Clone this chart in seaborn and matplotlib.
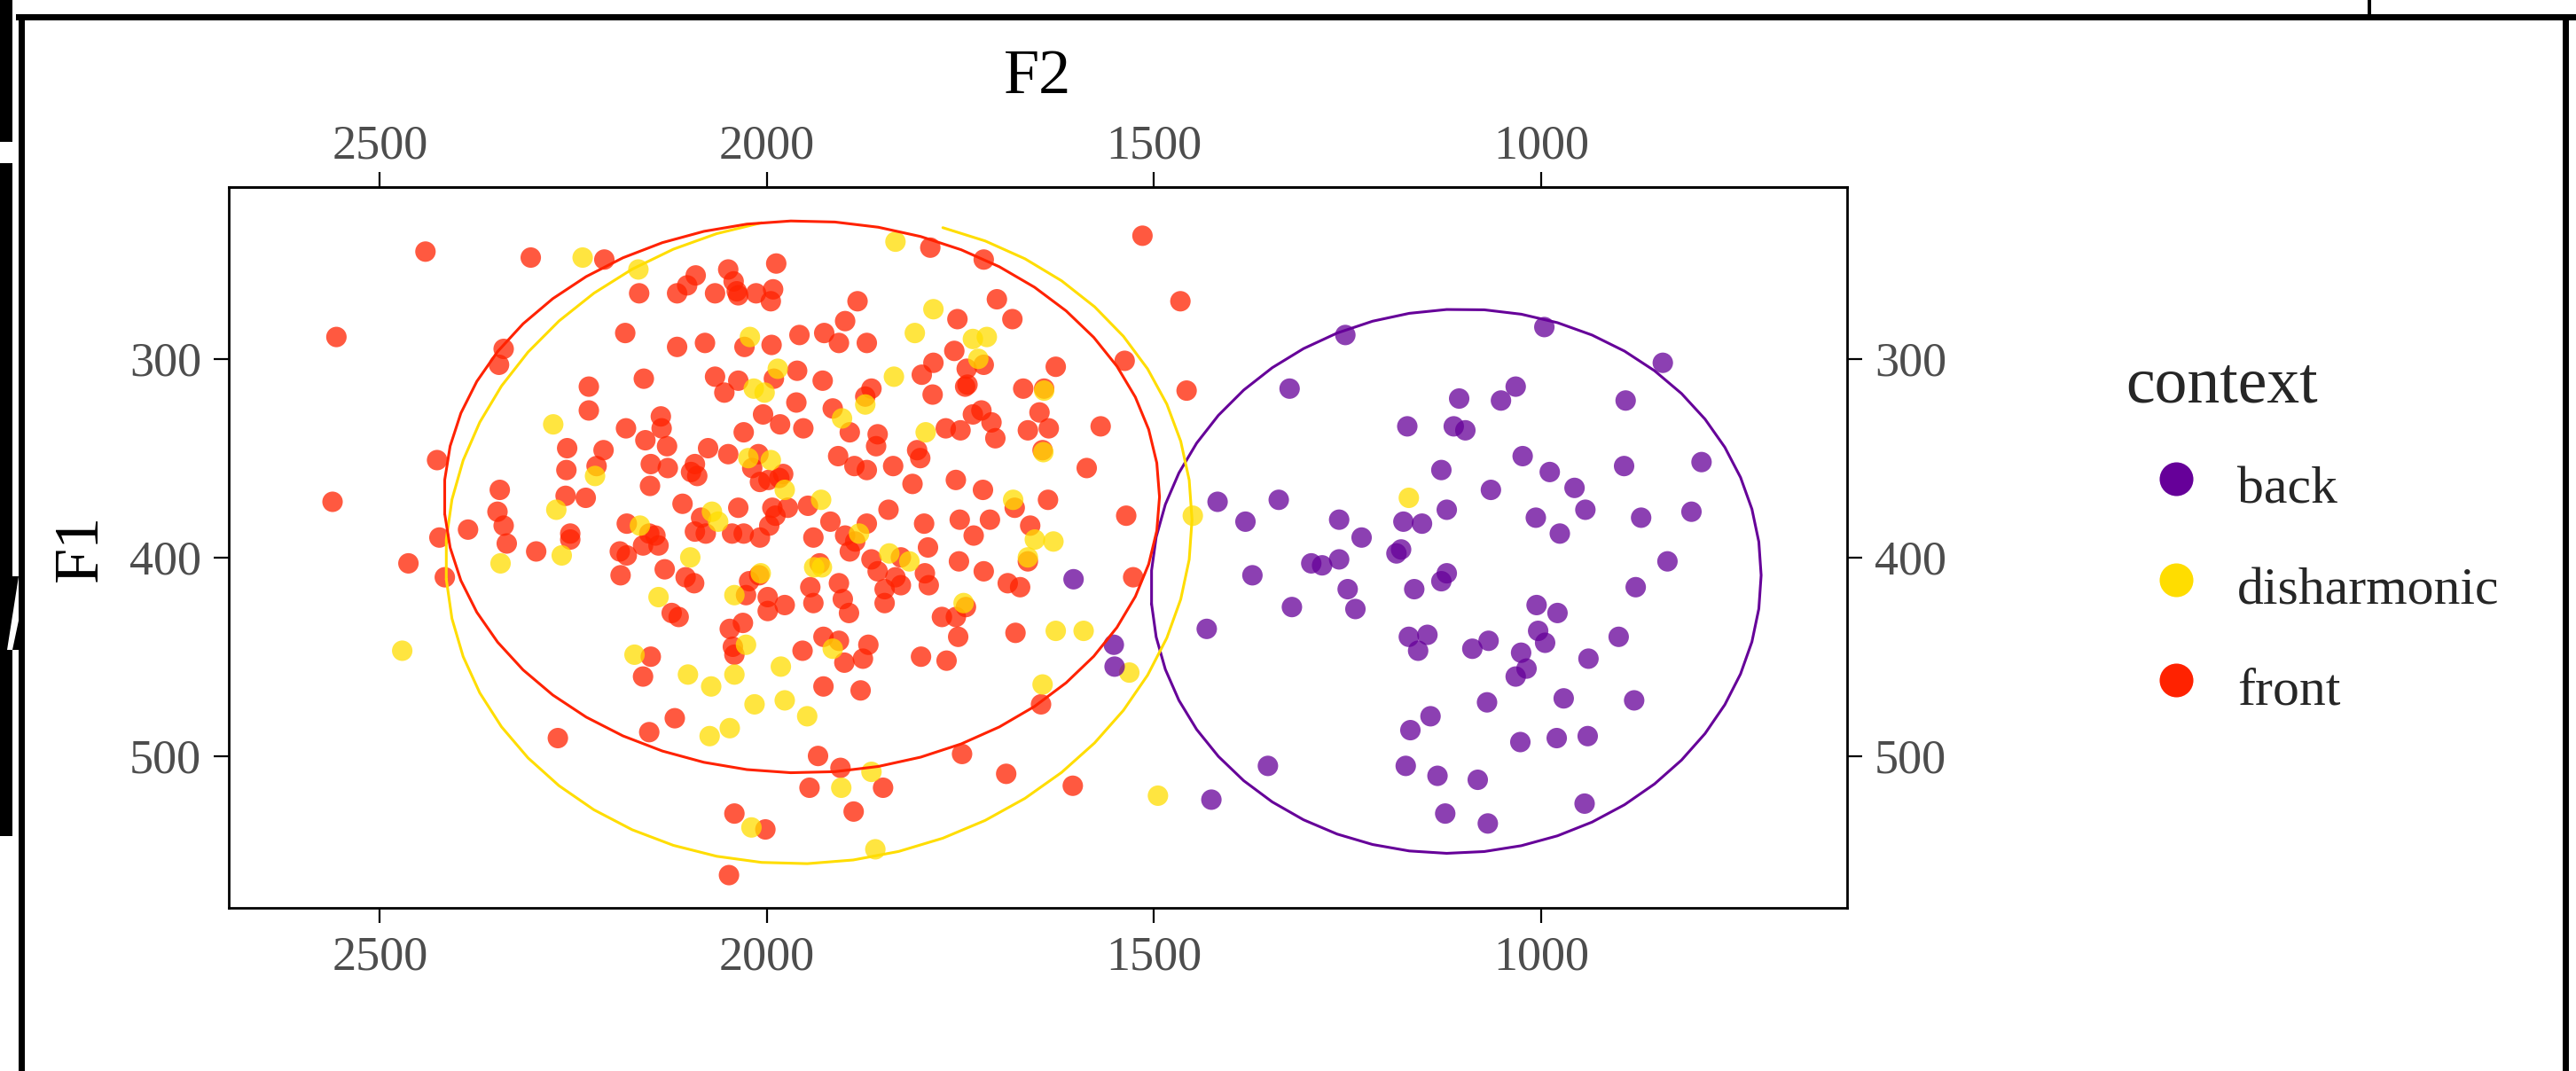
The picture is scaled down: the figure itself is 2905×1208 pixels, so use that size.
import numpy as np
import pandas as pd
import matplotlib
matplotlib.use("Agg")
import matplotlib.pyplot as plt
from matplotlib.lines import Line2D
from matplotlib.patches import Rectangle, Polygon
import seaborn as sns

# ---- data (F2, F1 in Hz) ----
front_points = [
    (2441, 246), (2305, 249), (2210, 250), (1789, 244), (1720, 250), (1515, 238), (1988, 252), (2050, 255),
    (2092, 258), (2103, 263), (2116, 267), (2165, 267), (2067, 267), (2043, 261), (2039, 266), (2037, 268),
    (2014, 267), (1992, 265), (1995, 271), (1883, 271), (1466, 271), (1703, 270), (2556, 289), (2340, 295),
    (2346, 303), (2183, 287), (1899, 281), (1754, 280), (1683, 280), (2116, 294), (2080, 292), (2029, 294),
    (1994, 293), (1958, 288), (1926, 287), (1907, 292), (1871, 292), (1758, 296), (1720, 303), (1742, 305),
    (1785, 302), (1627, 304), (1538, 301), (1458, 316), (2159, 310), (2067, 309), (2037, 311), (2055, 317),
    (1991, 310), (1961, 306), (1928, 311), (1800, 308), (1865, 315), (1873, 319), (1786, 318), (1744, 314),
    (1741, 313), (1669, 315), (1642, 315), (2230, 314), (2230, 326), (1962, 322), (2005, 328), (1983, 333),
    (1953, 335), (1915, 325), (1893, 337), (1857, 338), (1859, 344), (1769, 335), (1750, 336), (1734, 328),
    (1723, 326), (1710, 332), (1705, 340), (1648, 327), (1663, 336), (1636, 335), (1569, 334), (2182, 335),
    (2137, 329), (2136, 335), (2157, 341), (2129, 344), (2258, 345), (2211, 346), (2076, 345), (2050, 348),
    (2030, 337), (2011, 348), (2259, 356), (2220, 354), (2150, 353), (2128, 355), (2098, 357), (2093, 353),
    (2090, 359), (2019, 355), (2009, 362), (1998, 361), (1984, 360), (1979, 358), (1908, 349), (1887, 354),
    (1871, 356), (1837, 354), (1812, 363), (1806, 346), (1802, 350), (1756, 361), (1721, 366), (1644, 346),
    (1587, 355), (2151, 364), (2345, 366), (2260, 369), (2234, 370), (2109, 373), (2037, 375), (1993, 375),
    (1973, 375), (1947, 374), (1843, 376), (1680, 375), (1637, 371), (1536, 379), (2426, 351), (2561, 372),
    (2348, 377), (2340, 384), (2336, 393), (2386, 386), (2423, 390), (2254, 388), (2254, 391), (2181, 383),
    (2152, 388), (2144, 389), (2140, 394), (2160, 394), (2085, 380), (2093, 387), (2079, 388), (2045, 388),
    (2030, 388), (2009, 390), (1997, 384), (1989, 379), (1940, 390), (1918, 382), (1899, 389), (1886, 392),
    (1893, 397), (1871, 383), (1797, 383), (1751, 381), (1712, 381), (1733, 389), (1660, 384), (1792, 395),
    (1827, 400), (1865, 401), (1857, 407), (1834, 410), (1827, 414), (1848, 416), (1848, 423), (1663, 402),
    (1752, 402), (1720, 407), (1796, 408), (1791, 414), (1689, 413), (1673, 415), (1527, 410), (2298, 397),
    (2463, 403), (2416, 410), (2190, 397), (2181, 399), (2132, 406), (2105, 410), (2094, 413), (2189, 409),
    (2010, 409), (2023, 412), (2027, 419), (1999, 420), (1999, 427), (1977, 424), (1932, 403), (1907, 413),
    (1944, 415), (1940, 423), (1902, 421), (1894, 428), (2123, 428), (2114, 430), (2031, 433), (2048, 436),
    (1743, 425), (1774, 430), (1756, 430), (1753, 440), (1679, 438), (2150, 450), (2160, 460), (2044, 445),
    (2042, 449), (1954, 447), (1927, 440), (1907, 442), (1900, 453), (1876, 451), (1869, 444), (1801, 450),
    (1768, 452), (1646, 474), (1927, 465), (1879, 467), (2119, 481), (2152, 488), (2270, 491), (1934, 500),
    (1905, 506), (1748, 499), (1945, 516), (1850, 516), (1691, 509), (1605, 515), (2042, 529), (2002, 537),
    (1888, 528), (2049, 560),
]

disharmonic_points = [
    (2238, 249), (2166, 255), (1834, 241), (1785, 275), (1809, 287), (1734, 290), (1716, 289), (2022, 289),
    (1727, 300), (2017, 315), (2003, 317), (1986, 305), (1836, 309), (1873, 323), (1903, 330), (1795, 337),
    (2276, 333), (2024, 350), (1995, 351), (2222, 359), (1977, 366), (1643, 347), (2272, 376), (1930, 371),
    (1682, 371), (2164, 384), (2071, 377), (2063, 382), (1881, 388), (1654, 391), (1630, 392), (1842, 398),
    (1816, 402), (1663, 400), (2265, 399), (2344, 403), (2099, 400), (2008, 408), (2042, 419), (1939, 405),
    (1929, 405), (2140, 420), (1746, 423), (1627, 437), (1591, 437), (2471, 447), (2171, 449), (2102, 459),
    (2072, 465), (2042, 459), (2027, 444), (1982, 455), (1915, 446), (1532, 458), (1644, 464), (2016, 474),
    (1977, 472), (1948, 480), (2074, 490), (2048, 486), (1865, 508), (1904, 516), (1495, 520), (2020, 536),
    (1860, 547), (1450, 379), (1171, 370), (1642, 316),
]

back_points = [
    (1253, 288), (996, 284), (843, 302), (1325, 315), (1106, 320), (1052, 321), (1033, 314), (891, 321),
    (1173, 334), (1113, 334), (1098, 336), (1024, 349), (989, 357), (1129, 356), (893, 354), (793, 352),
    (957, 365), (1065, 366), (1418, 372), (1382, 382), (1339, 371), (1261, 381), (1178, 382), (1154, 383),
    (1122, 376), (1007, 380), (976, 388), (943, 376), (871, 380), (806, 377), (1232, 390), (1187, 398),
    (1181, 396), (1297, 403), (1283, 404), (1261, 401), (1373, 409), (837, 402), (878, 415), (1164, 416),
    (1122, 408), (1129, 412), (1250, 416), (1322, 425), (1240, 426), (1006, 424), (979, 428), (1004, 437),
    (995, 443), (900, 440), (1432, 436), (1171, 440), (1147, 439), (1159, 447), (1089, 446), (1068, 442),
    (1026, 448), (1019, 456), (1033, 460), (939, 451), (1070, 473), (971, 471), (880, 472), (1143, 480),
    (1169, 487), (1027, 493), (980, 491), (940, 490), (1353, 505), (1175, 505), (1134, 510), (1082, 512),
    (1124, 529), (1069, 534), (944, 524), (1426, 522), (1552, 444), (1551, 455), (1604, 411),
]

contexts = ["back", "disharmonic", "front"]
colors = ["#660099", "#FFDD00", "#FF2200"]

# ellipse outlines per context (centre, x radius, y radius, x-y coupling)
ell_cx = [1110, 1933, 1955]
ell_cy = [412, 391, 369.5]
ell_rx = [394, 482, 462]
ell_ry = [137, 163, 139]
ell_xy = [3, 10, 0]

x_limits = (700, 2600)
y_limits = (230, 560)
x_ticks = [1000, 1500, 2000, 2500]
y_ticks = [300, 400, 500]

# ---- frame ----
rows = []
for name, pts in (("front", front_points), ("disharmonic", disharmonic_points), ("back", back_points)):
    for f2, f1 in pts:
        rows.append({"F2": f2, "F1": f1, "context": name})
df = pd.DataFrame(rows)
palette = dict(zip(contexts, colors))

sns.set_theme(style="ticks")
plt.rcParams["font.family"] = ["Liberation Serif", "DejaVu Serif"]

W, H, DPI = 2905, 1208, 200
fig = plt.figure(figsize=(W / DPI, H / DPI), dpi=DPI)
ax = fig.add_axes([258 / W, 1 - 1024 / H, (2083 - 258) / W, (1024 - 211) / H])

sns.scatterplot(data=df, x="F2", y="F1", hue="context", palette=palette,
                s=69, alpha=0.75, linewidth=0, legend=False, ax=ax, zorder=2)

# 51-segment outline; vertices outside the scale limits are dropped (path breaks)
n_seg = 51
theta = (np.arange(n_seg + 1) + 0.5) * 2 * np.pi / n_seg
for c, cx, cy, rx, ry, rxy in zip(contexts, ell_cx, ell_cy, ell_rx, ell_ry, ell_xy):
    ex = cx + rx * np.cos(theta)
    ey = cy + rxy * np.cos(theta) + ry * np.sin(theta)
    ey = np.where((ey < y_limits[0]) | (ey > y_limits[1]), np.nan, ey)
    ax.plot(ex, ey, color=palette[c], lw=1.1, zorder=3)

# ggplot-style 5% expansion, both axes reversed
xr = x_limits[1] - x_limits[0]
yr = y_limits[1] - y_limits[0]
ax.set_xlim(x_limits[1] + 0.05 * xr, x_limits[0] - 0.05 * xr)
ax.set_ylim(y_limits[1] + 0.05 * yr, y_limits[0] - 0.05 * yr)
ax.set_xticks(x_ticks)
ax.set_yticks(y_ticks)

tick_style = dict(length=6.2, width=0.8, color="black", labelsize=19.5, labelcolor="#4D4D4D")
ax.tick_params(axis="both", top=False, bottom=True, left=True, right=True,
               labeltop=False, labelbottom=True, labelleft=True, labelright=True,
               pad=5, **tick_style)
for sp in ax.spines.values():
    sp.set_linewidth(1.0)
    sp.set_color("black")

top = ax.secondary_xaxis("top")
top.set_xticks(x_ticks)
top.tick_params(axis="x", pad=1, **tick_style)
top.spines["top"].set_linewidth(1.0)
top.set_xlabel("F2", fontsize=26, labelpad=12.7, color="black")

ax.set_xlabel("")
ax.set_ylabel("F1", fontsize=26, labelpad=7.7, color="black")

handles = [Line2D([], [], marker="o", linestyle="", markersize=13.7, markerfacecolor=c,
                  markeredgewidth=0, color=c) for c in colors]
leg = ax.legend(handles, contexts, title="context", loc="upper left",
                bbox_to_anchor=(2397 / W, 1 - 402 / H), bbox_transform=fig.transFigure,
                frameon=False, fontsize=21.5, title_fontsize=26.5, alignment="left",
                handlelength=1.9, handleheight=1.44, handletextpad=0.21, labelspacing=0.72,
                borderpad=0, borderaxespad=0)


# ---- screenshot frame around the plot ----
def px_rect(x0, y0, x1, y1, color="black"):
    fig.add_artist(Rectangle((x0 / W, 1 - y1 / H), (x1 - x0) / W, (y1 - y0) / H,
                             transform=fig.transFigure, facecolor=color, edgecolor="none", zorder=10))


def px_poly(pts, color):
    fig.add_artist(Polygon([(x / W, 1 - y / H) for x, y in pts], closed=True,
                           transform=fig.transFigure, facecolor=color, edgecolor="none", zorder=11))


px_rect(18, 16, W, 23)
px_rect(21, 16, 28, H)
px_rect(2890, 16, 2897, H)
px_rect(2670, 0, 2674, 16)
px_rect(0, 0, 14, 160)
px_rect(0, 184, 14, 943)
px_rect(14, 650, 21, 733)
px_poly([(21, 650), (8, 733), (14, 733), (21, 700)], "white")

fig.savefig("out.png", dpi=DPI)
